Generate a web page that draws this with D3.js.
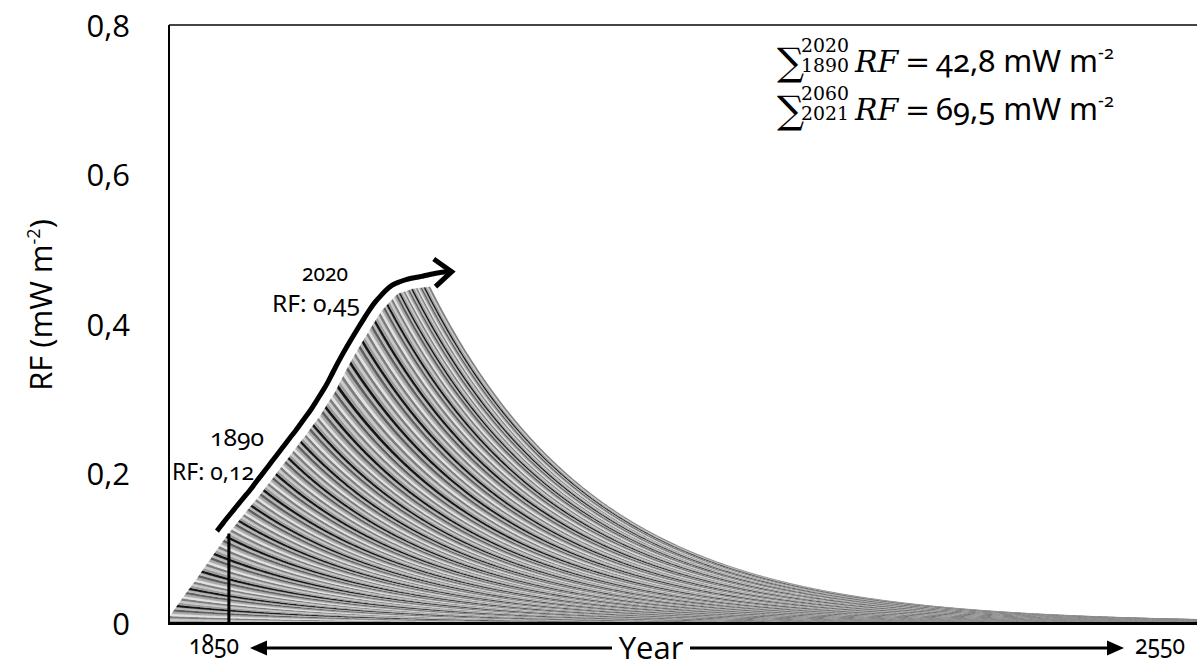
<!DOCTYPE html>
<html>
<head>
<meta charset="utf-8">
<script src="https://cdn.jsdelivr.net/npm/d3@7"></script>
<style>
  html, body { margin: 0; padding: 0; background: #fff; }
  svg { display: block; }
  .tick-text { font-family: "Open Sans", sans-serif; font-size: 31px; fill: #000; }
  .axis-title { font-family: "Open Sans", sans-serif; font-size: 31px; fill: #000; }
  .osf { font-family: "Noto Sans", sans-serif; font-variant-numeric: oldstyle-nums; font-feature-settings: "onum" 1; fill: #000; }
  .math { font-family: "DejaVu Serif", "Liberation Serif", serif; fill: #000; }
</style>
</head>
<body>
<svg id="chart" width="1197" height="668"></svg>
<script>
// Radiative forcing added by one year's emissions, per decade of emission (mW m-2)
const cohortDecades = [1850, 1860, 1870, 1880, 1890, 1900, 1910, 1920, 1930,
                       1940, 1950, 1960, 1970, 1980, 1990, 2000, 2010, 2020];
const cohortRF = [0.00313, 0.00319, 0.00365, 0.00382, 0.00378, 0.00391, 0.00435, 0.00459, 0.00484,
                  0.00519, 0.00597, 0.00700, 0.00684, 0.00695, 0.00611, 0.00475, 0.00434, 0.00460];
// atmospheric lifetime of the gas (years)
const lifetimeYears = 109;
const firstYear = 1850;
const lastEmissionYear = 2020;
const lastYear = 2550;
const rfTicks = [0, 0.2, 0.4, 0.6, 0.8];
const yearLabels = [1850, 2550];
const markedYears = [1890, 2020];
const sumLines = [
  { from: "1890", to: "2020", value: "42,8" },
  { from: "2021", to: "2060", value: "69,5" }
];

const svg = d3.select("#chart");
const frame = { left: 169, top: 25, right: 1197, bottom: 623 };

const x = d3.scaleLinear().domain([firstYear, lastYear]).range([167, 1250]);
const y = d3.scaleLinear().domain([0, 0.8]).range([frame.bottom, frame.top]);
const locale = d3.formatLocale({ decimal: ",", thousands: ".", grouping: [3], currency: ["", ""] });
const fmt = locale.format(".2~f");
const fmtTick = locale.format(".1~f");

// one stacked band per emission year, each decaying with the lifetime
const cohorts = d3.range(firstYear, lastEmissionYear + 1);
const rfOf = k => cohortRF[cohortDecades.indexOf(Math.floor(k / 10) * 10)];
const years = d3.range(firstYear, lastYear + 1);
const rows = years.map(t => {
  const r = { year: t };
  cohorts.forEach(k => { r[k] = t >= k ? rfOf(k) * Math.exp(-(t - k) / lifetimeYears) : 0; });
  return r;
});
const series = d3.stack().keys(cohorts)(rows);
const outerSeries = series[series.length - 1];
const total = yr => outerSeries[yr - firstYear][1];

svg.append("defs").append("clipPath").attr("id", "plotClip")
  .append("rect")
  .attr("x", frame.left).attr("y", frame.top)
  .attr("width", frame.right - frame.left).attr("height", frame.bottom - frame.top);

const palette = ["#9c9c9c", "#c8c8c8", "#7c7c7c", "#e2e2e2", "#aaaaaa", "#5c5c5c", "#b8b8b8", "#151515"];

const bands = svg.append("g").attr("clip-path", "url(#plotClip)");
bands.selectAll("path")
  .data(series)
  .join("path")
  .attr("d", s => d3.area()
      .defined(d => d.data.year >= s.key - 1)
      .x(d => x(d.data.year))
      .y0(d => y(d[0]))
      .y1(d => y(d[1]))(s))
  .attr("fill", (s, i) => palette[i % palette.length])
  .attr("stroke", (s, i) => palette[i % palette.length])
  .attr("stroke-width", 0.25);

// frame
svg.append("line").attr("x1", frame.left).attr("x2", frame.right).attr("y1", frame.top).attr("y2", frame.top)
  .attr("stroke", "#444").attr("stroke-width", 2);
svg.append("line").attr("x1", frame.left).attr("x2", frame.left).attr("y1", frame.top).attr("y2", frame.bottom)
  .attr("stroke", "#000").attr("stroke-width", 2);
svg.append("line").attr("x1", frame.left - 1).attr("x2", frame.right).attr("y1", frame.bottom + 0.5).attr("y2", frame.bottom + 0.5)
  .attr("stroke", "#000").attr("stroke-width", 3);

// y axis
const yAxis = svg.append("g").attr("transform", `translate(${frame.left},0)`)
  .call(d3.axisLeft(y).tickValues(rfTicks).tickFormat(fmtTick).tickSize(0).tickPadding(39));
yAxis.select(".domain").remove();
yAxis.selectAll("text").attr("class", "tick-text").attr("font-family", null).attr("font-size", null)
  .attr("dy", "0.36em");

// y title
const yt = svg.append("text").attr("class", "axis-title")
  .attr("transform", "translate(52,305) rotate(-90)").attr("text-anchor", "middle");
yt.append("tspan").text("RF (mW m");
yt.append("tspan").attr("font-size", 18).attr("dy", -12).text("-2");
yt.append("tspan").attr("dy", 12).text(")");

// x labels
svg.append("g").selectAll("text").data(yearLabels).join("text")
  .attr("class", "osf").attr("font-size", 27)
  .attr("x", (d, i) => i === 0 ? 189 : 1135).attr("y", 654)
  .attr("textLength", 50).attr("lengthAdjust", "spacingAndGlyphs")
  .text(d => d);
svg.append("text").attr("class", "axis-title").attr("x", 651).attr("y", 659)
  .attr("text-anchor", "middle").text("Year");

// double arrow along the time axis
function hArrow(x1, x2, yy) {
  const dir = Math.sign(x2 - x1);
  svg.append("line").attr("x1", x1).attr("x2", x2 - dir * 12).attr("y1", yy).attr("y2", yy)
    .attr("stroke", "#000").attr("stroke-width", 3);
  svg.append("path").attr("d", `M${x2},${yy} L${x2 - dir * 17},${yy - 7.5} L${x2 - dir * 17},${yy + 7.5} Z`).attr("fill", "#000");
}
hArrow(612, 250, 648);
hArrow(690, 1124, 648);

// vertical marker at the first marked year
const m0 = markedYears[0];
svg.append("line").attr("x1", x(m0)).attr("x2", x(m0)).attr("y1", y(0)).attr("y2", y(total(m0)))
  .attr("stroke", "#000").attr("stroke-width", 3);

// curved arrow following the envelope from the first to the last marked year
const env = d3.range(m0 - 2, lastEmissionYear - 3, 3).map(t => {
  const a = [x(t - 1), y(total(t - 1))], b = [x(t + 1), y(total(t + 1))];
  const dx = b[0] - a[0], dy = b[1] - a[1], len = Math.hypot(dx, dy);
  const off = 11;
  return [x(t) + dy / len * off, y(total(t)) - dx / len * off];
});
const peakY = y(total(lastEmissionYear)) - 13;
env.push([x(lastEmissionYear + 4), peakY - 1]);
env.push([x(lastEmissionYear + 14), peakY - 2]);
svg.append("path").attr("d", d3.line().curve(d3.curveBasis)(env))
  .attr("fill", "none").attr("stroke", "#000").attr("stroke-width", 5).attr("stroke-linecap", "butt");
const tip = env[env.length - 1], prev = env[env.length - 2];
const ang = Math.atan2(tip[1] - prev[1], tip[0] - prev[0]);
const barb = 22, spread = 0.68;
svg.append("path")
  .attr("d", `M${tip[0] - barb * Math.cos(ang - spread)},${tip[1] - barb * Math.sin(ang - spread)} L${tip[0]},${tip[1]} L${tip[0] - barb * Math.cos(ang + spread)},${tip[1] - barb * Math.sin(ang + spread)}`)
  .attr("fill", "none").attr("stroke", "#000").attr("stroke-width", 5).attr("stroke-linejoin", "miter");

// labels for the marked years
const labelPos = [
  { x1: 210, w1: 54, y1: 446, x2: 172, w2: 82, y2: 480 },
  { x1: 302, w1: 46, y1: 281, x2: 272, w2: 88, y2: 312 }
];
markedYears.forEach((yr, i) => {
  const p = labelPos[i];
  svg.append("text").attr("class", "osf").attr("font-size", 23).attr("x", p.x1).attr("y", p.y1)
    .attr("textLength", p.w1).attr("lengthAdjust", "spacingAndGlyphs").text(yr);
  svg.append("text").attr("class", "osf").attr("font-size", 23).attr("x", p.x2).attr("y", p.y2)
    .attr("textLength", p.w2).attr("lengthAdjust", "spacingAndGlyphs")
    .text("RF: " + fmt(total(yr)));
});

// cumulative forcing statements
sumLines.forEach((s, i) => {
  const base = 72 + i * 48;
  svg.append("text").attr("class", "math").attr("font-size", 38).attr("x", 777).attr("y", base + 3).text("\u2211");
  svg.append("text").attr("class", "math").attr("font-size", 18).attr("x", 801).attr("y", base - 20)
    .attr("textLength", 48).attr("lengthAdjust", "spacingAndGlyphs").text(s.to);
  svg.append("text").attr("class", "math").attr("font-size", 18).attr("x", 801).attr("y", base)
    .attr("textLength", 48).attr("lengthAdjust", "spacingAndGlyphs").text(s.from);
  svg.append("text").attr("class", "math").attr("font-size", 30).attr("font-style", "italic").attr("x", 855).attr("y", base).text("RF");
  svg.append("text").attr("class", "math").attr("font-size", 30).attr("x", 905).attr("y", base).text("=");
  const v = svg.append("text").attr("class", "osf").attr("font-size", 31).attr("x", 936).attr("y", base);
  v.append("tspan").text(s.value + " mW m");
  v.append("tspan").attr("font-size", 18).attr("dy", -13).text("-2");
});
</script>
</body>
</html>
